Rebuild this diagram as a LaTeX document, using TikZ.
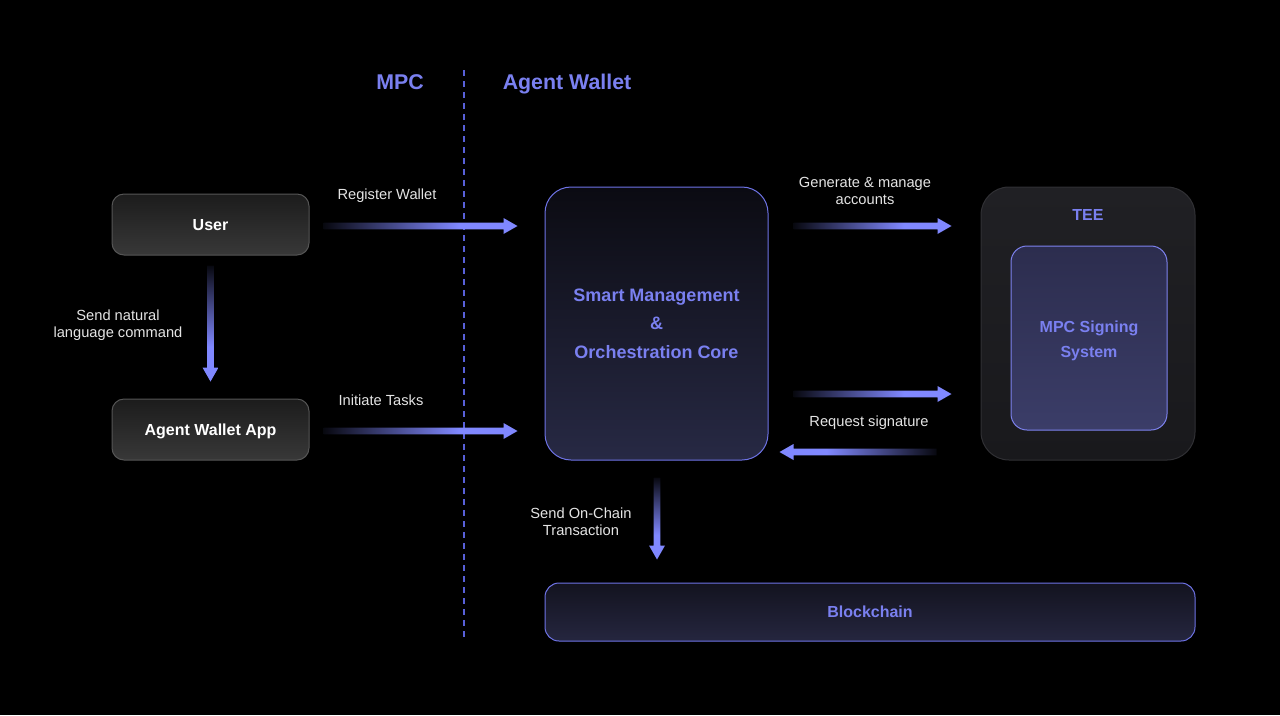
\documentclass[tikz,border=0pt]{standalone}
\usepackage{fontspec}
\setmainfont{Liberation Sans}
\usetikzlibrary{calc}

\definecolor{accent}{HTML}{7A80F0}
\definecolor{flowblue}{HTML}{8088FF}
\definecolor{labelgray}{HTML}{E4E4E4}
\definecolor{graytop}{HTML}{1C1C1C}
\definecolor{graybot}{HTML}{383838}
\definecolor{graybd}{HTML}{555555}
\definecolor{coretop}{HTML}{0B0B12}
\definecolor{corebot}{HTML}{272944}
\definecolor{corebd}{HTML}{6E73E6}
\definecolor{teetop}{HTML}{202024}
\definecolor{teebot}{HTML}{19191C}
\definecolor{teebd}{HTML}{303034}
\definecolor{mpctop}{HTML}{2C2D4E}
\definecolor{mpcbot}{HTML}{3B3D68}
\definecolor{mpcbd}{HTML}{7D82EE}
\definecolor{chaintop}{HTML}{13131F}
\definecolor{chainbot}{HTML}{25263F}
\definecolor{divline}{HTML}{5860D8}

\newdimen\px \px=0.75pt

% dark-to-blue ramp for the flow arrows
\pgfdeclarehorizontalshading{flowshade}{100bp}{color(0bp)=(black); color(25bp)=(flowblue!6!black); color(60bp)=(flowblue); color(100bp)=(flowblue)}

% thick fading arrow from #1 to #2, ramp turned by #3
\newcommand{\flowarrow}[3]{%
  \coordinate (fa-h) at ($(#2)!10.5pt!(#1)$);
  \shade[shading=flowshade, shading angle=#3]
    ($(#1)!2.5pt!90:(#2)$) -- ($(fa-h)!2.5pt!90:(#2)$) -- ($(fa-h)!6pt!90:(#2)$) -- (#2)
    -- ($(fa-h)!6pt!-90:(#2)$) -- ($(fa-h)!2.5pt!-90:(#2)$) -- ($(#1)!2.5pt!-90:(#2)$) -- cycle;
}

\tikzstyle{label} = [inner sep=0pt, align=center, text=labelgray, font=\fontsize{11}{12.75}\selectfont]
\tikzstyle{header} = [inner sep=0pt, text=accent, font=\bfseries\fontsize{16}{19}\selectfont]
\tikzstyle{graybox} = [draw=graybd, line width=0.75pt, top color=graytop, bottom color=graybot, rounded corners=9pt, minimum width=197\px, minimum height=61\px, text depth=0pt, text=white, font=\bfseries\fontsize{12}{14}\selectfont]
\tikzstyle{bluebox} = [draw=corebd, line width=0.75pt, top color=coretop, bottom color=corebot, text=accent, align=center]
\tikzstyle{bluetext} = [inner sep=0pt, align=center, text=accent]

\begin{document}
\begin{tikzpicture}[x=0.75pt, y=-0.75pt]
    % Background
    \fill[black] (0,0) rectangle (1280,715);

    % Headers and divider
    \node[header] (mpc-title) at (400,82) {MPC};
    \node[header] (aw-title) at (567,84) {Agent Wallet};
    \draw[divline, line width=0.9pt, dash pattern=on 4.5pt off 3.75pt] (464,70) -- (464,642);

    % Nodes
    \node[graybox] (user) at (210.5,224.5) {User};
    \node[graybox] (app) at (210.5,429.5) {Agent Wallet App};
    \node[bluebox, rounded corners=19.5pt, minimum width=223\px, minimum height=273\px,
          font=\bfseries\fontsize{13.5}{21.4}\selectfont] (core) at (656.5,323.5)
          {Smart Management\\\&\\Orchestration Core};
    \node[draw=teebd, line width=0.75pt, top color=teetop, bottom color=teebot, rounded corners=21pt,
          minimum width=214\px, minimum height=273\px] (tee) at (1088,323.5) {};
    \node[bluetext, font=\bfseries\fontsize{12}{14}\selectfont] (tee-title) at (1088,215) {TEE};
    \node[draw=mpcbd, line width=0.75pt, top color=mpctop, bottom color=mpcbot, rounded corners=12pt,
          minimum width=156\px, minimum height=184\px] (signer) at (1089,338) {};
    \node[bluetext, font=\bfseries\fontsize{12}{18.75}\selectfont] (signer-txt) at (1089,340.5) {MPC Signing\\System};
    \node[bluebox, top color=chaintop, bottom color=chainbot, rounded corners=10.5pt,
          minimum width=650\px, minimum height=58\px, text depth=0pt,
          font=\bfseries\fontsize{12}{14}\selectfont] (chain) at (870,612) {Blockchain};

    % Edges
    \coordinate (reg-s) at ($(user.east)+(14,1.5)$);
    \coordinate (reg-e) at ($(core.west |- user.east)+(-27,1.5)$);
    \coordinate (cmd-s) at ($(user.south)+(0,10)$);
    \coordinate (cmd-e) at ($(app.north)+(0,-17)$);
    \coordinate (task-s) at ($(app.east)+(14,1.5)$);
    \coordinate (task-e) at ($(core.west |- app.east)+(-27,1.5)$);
    \coordinate (gen-s) at ($(core.east |- user.east)+(25,1.5)$);
    \coordinate (gen-e) at ($(tee.west |- user.east)+(-29,1.5)$);
    \coordinate (req-s) at ($(core.east)+(25,70.5)$);
    \coordinate (req-e) at ($(tee.west)+(-29,70.5)$);
    \coordinate (sig-s) at ($(tee.west)+(-44,128.5)$);
    \coordinate (sig-e) at ($(core.east)+(11,128.5)$);
    \coordinate (tx-s) at ($(core.south)+(0.5,17)$);
    \coordinate (tx-e) at ($(core.south |- chain.north)+(0.5,-23)$);

    \flowarrow{reg-s}{reg-e}{0}
    \flowarrow{cmd-s}{cmd-e}{-90}
    \flowarrow{task-s}{task-e}{0}
    \flowarrow{gen-s}{gen-e}{0}
    \flowarrow{req-s}{req-e}{0}
    \flowarrow{sig-s}{sig-e}{180}
    \flowarrow{tx-s}{tx-e}{-90}

    % Labels
    \node[label] (reg-lbl) at (387,196) {Register Wallet};
    \node[label] (cmd-lbl) at (118,325.5) {Send natural\\language command};
    \node[label] (task-lbl) at (381,400) {Initiate Tasks};
    \node[label] (gen-lbl) at (865,191) {Generate \& manage\\accounts};
    \node[label] (sig-lbl) at (869,423) {Request signature};
    \node[label] (tx-lbl) at (581,522) {Send On-Chain\\Transaction};
\end{tikzpicture}
\end{document}
